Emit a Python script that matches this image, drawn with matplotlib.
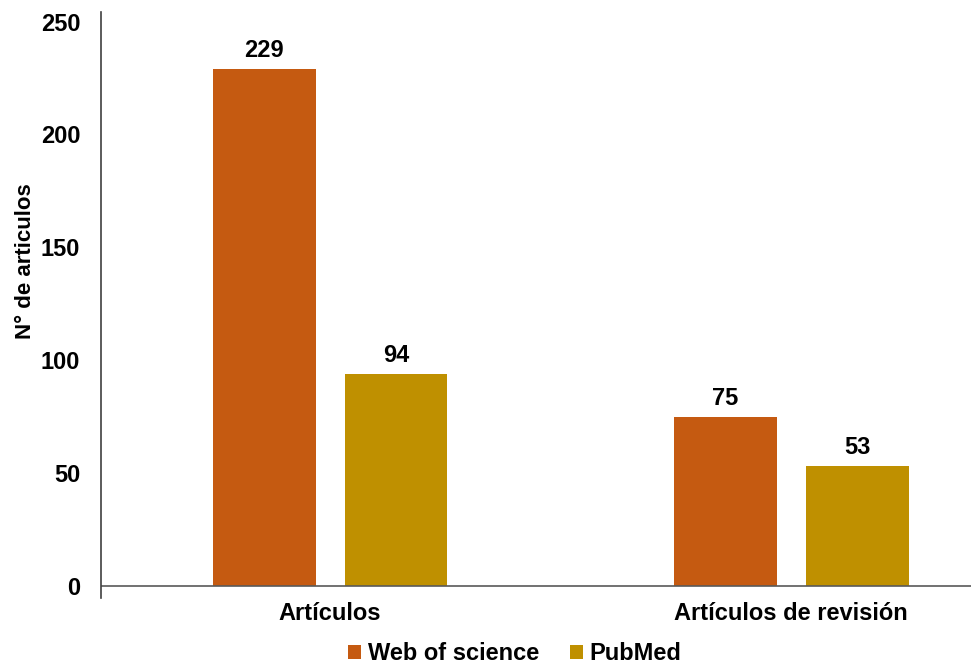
import matplotlib.pyplot as plt
import numpy as np

plt.rcParams['font.family'] = ['Liberation Sans', 'DejaVu Sans']
plt.rcParams['font.weight'] = 'bold'

categories = ['Artículos', 'Artículos de revisión']
series_names = ['Web of science', 'PubMed']
wos_counts = [229, 75]
pubmed_counts = [94, 53]
colors = ['#C55A11', '#BF9000']

fig = plt.figure(figsize=(9.71, 6.68), dpi=100)
ax = fig.add_axes([0.104, 0.105, 0.896, 0.877])

x = np.arange(len(categories))
width = 0.223
offset = 0.143

bars1 = ax.bar(x - offset, wos_counts, width, color=colors[0], label=series_names[0])
bars2 = ax.bar(x + offset, pubmed_counts, width, color=colors[1], label=series_names[1])

for bars in (bars1, bars2):
    for b in bars:
        ax.annotate(f'{int(b.get_height())}', (b.get_x() + b.get_width() / 2, b.get_height()),
                    xytext=(0, 5), textcoords='offset points', ha='center', va='bottom',
                    fontsize=17, fontweight='bold')

ax.set_xlim(-0.497, 1.39)
ax.set_ylim(-5.3, 254.2)
ax.set_yticks([0, 50, 100, 150, 200, 250])
ax.set_xticks(x)
ax.set_xticklabels(categories, fontsize=17, fontweight='bold')
ax.tick_params(axis='y', length=0, pad=15, labelsize=17)
ax.tick_params(axis='x', length=0, pad=3)
ax.set_ylabel('N° de articulos', fontsize=16, fontweight='bold')
ax.yaxis.set_label_coords(-0.075, 0.575)

# baseline at zero; the left spine runs a bit below it
ax.axhline(0, color='#595959', linewidth=1.2)
for side in ('top', 'right', 'bottom'):
    ax.spines[side].set_visible(False)
ax.spines['left'].set_color('#404040')
ax.spines['left'].set_linewidth(1.2)

fig.legend(loc='lower center', bbox_to_anchor=(0.53, -0.028), ncol=2, frameon=False,
           prop={'size': 17, 'weight': 'bold'}, handlelength=0.55, handleheight=0.55,
           handletextpad=0.3, columnspacing=1.3)

fig.savefig('out.png', dpi=100)
